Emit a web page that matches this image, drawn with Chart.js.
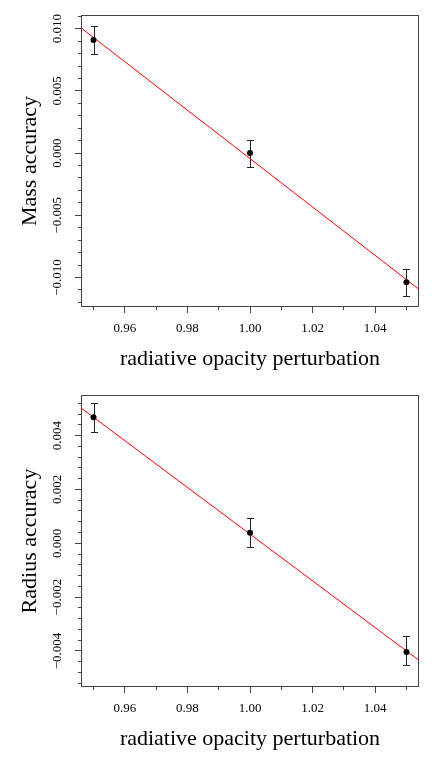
<!DOCTYPE html>
<html>
<head>
<meta charset="utf-8">
<script src="https://cdn.jsdelivr.net/npm/chart.js@4.4.1/dist/chart.umd.min.js"></script>
<style>
html, body { margin: 0; padding: 0; background: #fff; }
canvas { display: block; }
</style>
</head>
<body>
<canvas id="mass-chart" width="436" height="380"></canvas>
<canvas id="radius-chart" width="436" height="380"></canvas>
<script>
// values
const perturbation = [0.95, 1.00, 1.05];

const massAccuracy = [0.0091, 0.0000, -0.01038];
const massErrLow = [0.0080, -0.00112, -0.01152];
const massErrHigh = [0.01019, 0.00108, -0.00932];
const massFit = [0.01007, -0.01095];

const radiusAccuracy = [0.00468, 0.00039, -0.00404];
const radiusErrLow = [0.00414, -0.00015, -0.00454];
const radiusErrHigh = [0.00520, 0.00094, -0.00346];
const radiusFit = [0.00503, -0.00435];

const xRange = [0.946, 1.054];
const massRange = [-0.01237, 0.01110];
const radiusRange = [-0.00534, 0.00551];

const xTickLabels = [0.96, 0.98, 1.00, 1.02, 1.04];
const massTickLabels = [-0.010, -0.005, 0.000, 0.005, 0.010];
const radiusTickLabels = [-0.004, -0.002, 0.000, 0.002, 0.004];

Chart.defaults.font.family = "'Liberation Serif', 'Times New Roman', serif";
Chart.defaults.color = '#000';

const axisColor = '#444';

function fmt(v, digits) {
    return v.toFixed(digits).replace('-', '\u2212');
}

const frame = {
    id: 'frame',
    beforeDatasetsDraw(chart) {
        const {ctx, chartArea: a, scales: {x, y}} = chart;
        ctx.save();
        // error bars
        chart.data.datasets.forEach(ds => {
            if (!ds.errLow) return;
            ctx.strokeStyle = '#222';
            ctx.lineWidth = 1;
            ds.data.forEach((p, i) => {
                const px = Math.round(x.getPixelForValue(p.x)) + 0.5;
                const top = Math.round(y.getPixelForValue(ds.errHigh[i])) + 0.5;
                const bot = Math.round(y.getPixelForValue(ds.errLow[i])) + 0.5;
                ctx.beginPath();
                ctx.moveTo(px, top);
                ctx.lineTo(px, bot);
                ctx.moveTo(px - 3.5, top);
                ctx.lineTo(px + 3.5, top);
                ctx.moveTo(px - 3.5, bot);
                ctx.lineTo(px + 3.5, bot);
                ctx.stroke();
            });
        });
        // box round the plot
        ctx.strokeStyle = axisColor;
        ctx.lineWidth = 1;
        ctx.strokeRect(Math.round(a.left) + 0.5, Math.round(a.top) + 0.5,
            Math.round(a.right - a.left) - 1, Math.round(a.bottom - a.top) - 1);
        ctx.restore();
    }
};

function minorAxis(axis, range, step) {
    return {
        type: 'linear',
        axis: axis,
        position: axis === 'x' ? 'bottom' : 'left',
        weight: 0,
        min: range[0],
        max: range[1],
        border: {display: false},
        grid: {drawOnChartArea: false, tickLength: 3, tickColor: axisColor},
        ticks: {display: false, stepSize: step, includeBounds: false},
        afterFit: s => {
            if (axis === 'x') s.height = 0; else s.width = 0;
        }
    };
}

function makeChart(id, yTitle, values, low, high, fit, yRange, yLabels, yStep, yDigits) {
    const points = perturbation.map((x, i) => ({x: x, y: values[i]}));
    const line = xRange.map((x, i) => ({x: x, y: fit[i]}));

    return new Chart(document.getElementById(id), {
        type: 'scatter',
        data: {
            datasets: [{
                data: points,
                errLow: low,
                errHigh: high,
                backgroundColor: '#000',
                borderWidth: 0,
                pointRadius: 3
            }, {
                data: line,
                showLine: true,
                borderColor: '#ff0000',
                borderWidth: 1,
                pointRadius: 0,
                fill: false
            }]
        },
        options: {
            responsive: false,
            animation: false,
            devicePixelRatio: 1,
            layout: {padding: {top: 15, right: 17, left: 0, bottom: 0}},
            plugins: {
                legend: {display: false},
                tooltip: {enabled: false}
            },
            scales: {
                x: {
                    type: 'linear',
                    position: 'bottom',
                    weight: 1,
                    min: xRange[0],
                    max: xRange[1],
                    afterBuildTicks: s => { s.ticks = xTickLabels.map(v => ({value: v})); },
                    afterFit: s => { s.height = 73; },
                    border: {display: false},
                    grid: {drawOnChartArea: false, tickLength: 6, tickColor: axisColor},
                    ticks: {
                        autoSkip: false,
                        maxRotation: 0,
                        padding: 8,
                        font: {size: 13},
                        callback: v => fmt(v, 2)
                    },
                    title: {
                        display: true,
                        text: 'radiative opacity perturbation',
                        font: {size: 22},
                        padding: {top: 0, bottom: 8}
                    }
                },
                xMinor: minorAxis('x', xRange, 0.01),
                y: {
                    type: 'linear',
                    position: 'left',
                    weight: 1,
                    min: yRange[0],
                    max: yRange[1],
                    afterBuildTicks: s => { s.ticks = yLabels.map(v => ({value: v})); },
                    afterFit: s => { s.width = 81; },
                    border: {display: false},
                    grid: {drawOnChartArea: false, tickLength: 6, tickColor: axisColor},
                    ticks: {
                        autoSkip: false,
                        minRotation: 90,
                        maxRotation: 90,
                        crossAlign: 'center',
                        padding: -1,
                        font: {size: 13},
                        callback: v => fmt(v, yDigits)
                    },
                    title: {
                        display: true,
                        text: yTitle,
                        font: {size: 22},
                        padding: {top: 17, bottom: 0}
                    }
                },
                yMinor: minorAxis('y', yRange, yStep)
            }
        },
        plugins: [frame]
    });
}

makeChart('mass-chart', 'Mass accuracy', massAccuracy, massErrLow, massErrHigh, massFit,
    massRange, massTickLabels, 0.001, 3);
makeChart('radius-chart', 'Radius accuracy', radiusAccuracy, radiusErrLow, radiusErrHigh, radiusFit,
    radiusRange, radiusTickLabels, 0.0004, 3);
</script>
</body>
</html>
